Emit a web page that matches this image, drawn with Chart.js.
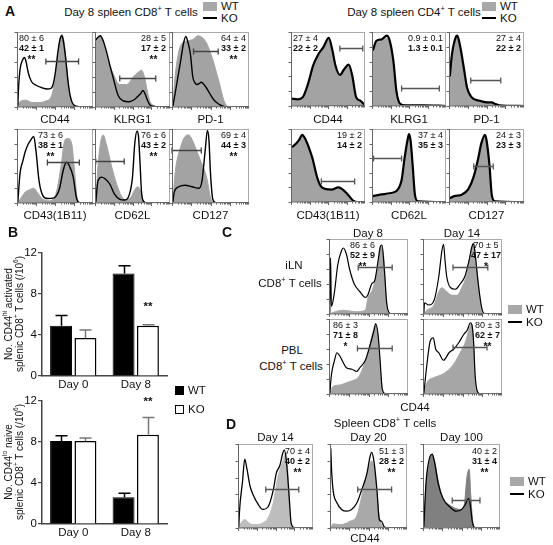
<!DOCTYPE html>
<html>
<head>
<meta charset="utf-8">
<script src="https://cdn.jsdelivr.net/npm/chart.js@4.4.0/dist/chart.umd.min.js"></script>
<style>
body { margin: 0; background: #fff; }
#fig { position: relative; width: 553px; height: 545px; overflow: hidden; font-family: "Liberation Sans", Arial, sans-serif; color: #111; }
#fig canvas { position: absolute; }
.t { position: absolute; white-space: nowrap; font-size: 11.5px; line-height: 13px; }
.stat { position: absolute; white-space: nowrap; font-size: 9px; line-height: 9.5px; text-align: center; }
.stat .sig { font-weight: bold; font-size: 10px; margin-top: 2px; }
.lbl { position: absolute; font-weight: bold; font-size: 14px; }
.sw { position: absolute; }
sup { font-size: 65%; line-height: 0; }
</style>
</head>
<body>
<div id="fig"></div>
<script>
// ---- panel B bar data ----
const days = ['Day 0', 'Day 8'];
const yTicks = [0, 4, 8, 12];
const actWt = [4.9, 10.0];
const actWtErr = [1.0, 0.75];
const actKo = [3.7, 4.9];
const actKoErr = [0.8, 0.1];
const naiveWt = [8.1, 2.6];
const naiveWtErr = [0.5, 0.4];
const naiveKo = [8.1, 8.7];
const naiveKoErr = [0.3, 1.7];

// ---- histogram curves, [x, y] in % of axis ----
// A: day 8 spleen CD8
const a8Cd44Wt = [[0,2],[5,8],[12,9],[20,6],[30,6],[38,8],[44,12],[48,25],[52,55],[55,80],[57,92],[59,97],[61,92],[64,70],[67,38],[70,12],[73,3],[78,0],[100,0]];
const a8Cd44Ko = [[1,0],[2,25],[4,50],[7,62],[10,66],[12,60],[15,45],[19,34],[25,29],[32,26],[40,24],[45,25],[48,32],[51,50],[54,75],[57,92],[59,95],[61,88],[64,65],[67,35],[70,15],[73,5],[78,1],[85,0],[100,0]];
const a8KlrgWt = [[0,85],[3,92],[7,95],[11,85],[16,65],[24,45],[33,30],[42,30],[51,40],[57,46],[62,49],[66,40],[69,25],[73,8],[78,2],[84,0],[100,0]];
const a8KlrgKo = [[0,88],[3,92],[7,95],[11,88],[15,75],[20,55],[24,40],[31,15],[38,8],[45,7],[51,9],[57,14],[61,18],[64,22],[67,17],[70,9],[73,3],[78,1],[85,0],[100,0]];
const a8Pd1Wt = [[1,0],[4,40],[8,70],[13,85],[20,88],[27,90],[34,95],[40,92],[45,85],[50,72],[54,60],[58,45],[62,30],[67,10],[71,2],[76,0],[100,0]];
const a8Pd1Ko = [[1,0],[6,30],[11,60],[15,85],[18,94],[21,85],[24,70],[27,40],[30,32],[32,30],[35,31],[38,33],[43,28],[49,18],[54,10],[58,6],[64,2],[70,0],[100,0]];
const a8Cd43Wt = [[1,0],[6,8],[11,15],[17,18],[22,20],[27,14],[34,5],[43,3],[48,6],[52,15],[58,50],[63,85],[67,87],[72,80],[76,40],[79,8],[83,0],[100,0]];
const a8Cd43Ko = [[1,0],[4,40],[8,58],[11,70],[15,80],[18,85],[22,90],[25,70],[29,30],[34,10],[40,6],[49,7],[53,12],[56,20],[61,45],[65,55],[69,50],[74,35],[78,8],[81,1],[86,0],[100,0]];
const a8Cd62Wt = [[1,0],[4,50],[8,85],[11,92],[15,80],[22,50],[29,25],[35,10],[41,4],[48,8],[53,18],[57,22],[61,15],[64,4],[68,0],[100,0]];
const a8Cd62Ko = [[1,0],[4,30],[9,35],[13,33],[20,25],[26,12],[33,5],[39,4],[46,12],[50,35],[53,80],[56,97],[58,90],[60,55],[62,15],[65,2],[70,0],[100,0]];
const a8Cd127Wt = [[1,0],[4,40],[11,75],[17,90],[22,92],[26,86],[33,68],[38,55],[42,45],[46,30],[49,12],[52,2],[56,0],[100,0]];
const a8Cd127Ko = [[1,0],[3,15],[9,22],[17,24],[26,22],[35,20],[39,30],[43,70],[46,98],[48,85],[50,40],[53,5],[57,0],[100,0]];
// A: day 8 spleen CD4
const a4Cd44Wt = [[1,8],[9,8],[16,11],[23,28],[30,52],[37,68],[44,78],[51,90],[56,73],[60,53],[66,40],[72,48],[78,54],[83,38],[88,11],[94,5],[99,1]];
const a4Cd44Ko = [[1,10],[9,9],[16,12],[23,30],[30,55],[37,70],[44,80],[51,92],[56,75],[60,55],[66,42],[72,50],[78,56],[83,40],[88,12],[94,7],[99,2]];
const a4KlrgWt = [[1,72],[6,85],[13,88],[20,92],[24,85],[29,58],[33,18],[38,3],[45,1],[100,0]];
const a4KlrgKo = [[1,75],[6,88],[13,90],[20,95],[24,88],[29,60],[33,20],[38,3],[45,1],[70,1],[100,0]];
const a4Pd1Wt = [[1,38],[4,68],[9,92],[11,94],[15,78],[20,48],[24,23],[30,11],[41,6],[50,4],[57,4],[61,2],[67,0],[100,0]];
const a4Pd1Ko = [[1,40],[4,70],[9,93],[11,95],[15,80],[20,50],[24,25],[30,12],[41,7],[50,5],[57,5],[61,3],[67,1],[100,0]];
const a4Cd43Wt = [[1,72],[7,78],[11,83],[15,90],[20,83],[24,73],[29,58],[35,33],[40,20],[46,16],[55,15],[64,18],[70,15],[77,8],[84,1],[90,0],[100,0]];
const a4Cd43Ko = [[1,75],[7,80],[11,85],[15,92],[20,85],[24,75],[29,60],[35,35],[40,22],[46,18],[55,17],[64,20],[70,17],[77,10],[84,2],[90,0],[100,0]];
const a4Cd62Wt = [[1,6],[11,8],[24,10],[33,13],[40,28],[44,58],[48,83],[50,90],[52,83],[55,48],[58,8],[62,0],[100,0]];
const a4Cd62Ko = [[1,8],[11,10],[24,12],[33,15],[40,30],[44,60],[48,85],[50,93],[52,85],[55,50],[58,10],[62,1],[100,0]];
const a4Cd127Wt = [[1,3],[7,6],[17,8],[26,16],[33,33],[39,58],[43,78],[48,90],[50,83],[54,48],[57,8],[61,0],[100,0]];
const a4Cd127Ko = [[1,5],[7,8],[17,10],[26,18],[33,35],[39,60],[43,80],[48,92],[50,85],[54,50],[57,10],[61,1],[100,0]];
// C: iLN and PBL CD44
const cLn8Wt = [[1,0],[5,2],[18,5],[35,3],[46,5],[49,20],[56,35],[62,65],[66,92],[69,80],[73,15],[76,0],[100,0]];
const cLn8Ko = [[1,0],[2,75],[3,10],[7,30],[11,65],[16,85],[18,88],[22,80],[26,60],[32,40],[39,30],[46,22],[49,25],[54,40],[58,45],[62,70],[65,90],[67,92],[70,60],[73,15],[76,2],[80,0],[100,0]];
const cLn14Wt = [[1,0],[5,5],[14,12],[20,30],[24,35],[30,30],[37,25],[43,25],[49,35],[56,55],[61,85],[64,95],[68,60],[73,15],[77,0],[100,0]];
const cLn14Ko = [[1,0],[2,15],[7,12],[14,18],[20,50],[24,85],[26,93],[28,70],[30,50],[35,35],[41,33],[47,40],[53,50],[58,70],[62,90],[64,94],[66,80],[70,40],[74,10],[77,1],[82,0],[100,0]];
const cPb8Wt = [[1,0],[5,10],[14,12],[22,15],[30,18],[37,22],[43,35],[49,55],[55,80],[59,92],[63,65],[66,20],[69,2],[73,0],[100,0]];
const cPb8Ko = [[1,0],[3,25],[7,45],[10,55],[14,50],[18,42],[22,35],[29,33],[35,30],[39,35],[46,45],[52,65],[57,85],[59,94],[62,80],[65,40],[67,10],[70,1],[75,0],[100,0]];
const cPb14Wt = [[1,0],[5,15],[14,22],[22,25],[30,30],[39,40],[47,55],[54,70],[58,85],[61,93],[64,70],[66,20],[69,0],[100,0]];
const cPb14Ko = [[1,0],[5,40],[9,70],[13,75],[16,60],[20,55],[26,45],[33,55],[39,60],[45,68],[52,80],[56,85],[60,95],[62,92],[64,70],[66,25],[69,3],[73,0],[100,0]];
// D: spleen CD8 CD44 over time
const dD14Wt = [[1,0],[4,6],[9,10],[16,5],[24,4],[33,6],[40,12],[47,30],[53,60],[60,80],[64,90],[67,60],[70,10],[74,0],[100,0]];
const dD14Ko = [[1,0],[2,20],[6,55],[9,82],[12,70],[16,50],[20,40],[27,28],[33,22],[40,25],[47,45],[51,65],[56,75],[60,90],[62,93],[65,75],[68,40],[71,5],[76,0],[100,0]];
const dD20Wt = [[1,0],[4,5],[13,4],[26,8],[35,15],[43,45],[50,70],[54,80],[59,60],[63,20],[67,3],[71,0],[100,0]];
const dD20Ko = [[1,95],[2,70],[4,45],[9,30],[15,22],[22,20],[28,22],[35,30],[41,45],[48,65],[52,85],[54,90],[57,80],[61,45],[64,10],[67,8],[70,2],[74,0],[100,0]];
const dD100Wt = [[1,0],[4,50],[9,80],[12,88],[15,80],[20,55],[26,35],[35,27],[43,23],[50,22],[54,30],[57,60],[60,70],[62,40],[65,5],[69,0],[100,0]];
const dD100Ko = [[1,0],[4,55],[9,85],[12,88],[15,78],[20,52],[26,35],[35,25],[43,20],[50,22],[55,28],[59,35],[61,30],[64,8],[68,0],[100,0]];

// gates [from, to, height] and percentages
const a8Markers = ['CD44', 'KLRG1', 'PD-1', 'CD43(1B11)', 'CD62L', 'CD127'];
const a8Gates = [[38,81,62],[33,81,39],[28,60,75],[40,82,55],[1,39,57],[0,38,72]];
const a8WtPct = ['80 ± 6', '28 ± 5', '64 ± 4', '73 ± 6', '76 ± 6', '69 ± 4'];
const a8KoPct = ['42 ± 1', '17 ± 2', '33 ± 2', '38 ± 1', '43 ± 2', '44 ± 3'];
const a8Sig = ['**', '**', '**', '**', '**', '**'];
const a4Gates = [[66,97,78],[40,91,25],[29,69,35],[41,86,29],[2,40,60],[33,59,49]];
const a4WtPct = ['27 ± 4', '0.9 ± 0.1', '27 ± 4', '19 ± 2', '37 ± 4', '24 ± 3'];
const a4KoPct = ['22 ± 2', '1.3 ± 0.1', '22 ± 2', '14 ± 2', '35 ± 3', '23 ± 3'];
const cGates = [[37,80,63],[38,82,63],[36,80,62],[38,81,63]];
const cWtPct = ['86 ± 6', '70 ± 5', '86 ± 3', '80 ± 3'];
const cKoPct = ['52 ± 9', '47 ± 17', '71 ± 8', '62 ± 7'];
const cSig = ['**', '*', '*', '**'];
const dDays = ['Day 14', 'Day 20', 'Day 100'];
const dGates = [[37,81,47],[36,80,47],[38,74,33]];
const dWtPct = ['70 ± 4', '51 ± 3', '40 ± 2'];
const dKoPct = ['40 ± 2', '28 ± 2', '31 ± 4'];
const dSig = ['**', '**', '**'];

const FONT = '"Liberation Sans", Arial, sans-serif';
const fig = document.getElementById('fig');

function text(x, y, html, cls, tf) {
  const d = document.createElement('div');
  d.className = cls || 't';
  d.innerHTML = html;
  d.style.left = x + 'px';
  d.style.top = y + 'px';
  d.style.transform = tf || 'translate(-50%,-50%)';
  fig.appendChild(d);
  return d;
}

function legend(x, y, gap) {
  const sw = document.createElement('div');
  sw.className = 'sw';
  Object.assign(sw.style, { left: x + 'px', top: (y - 4) + 'px', width: '14px', height: '9px', background: '#a8a8a8' });
  fig.appendChild(sw);
  const ln = document.createElement('div');
  ln.className = 'sw';
  Object.assign(ln.style, { left: x + 'px', top: (y + gap - 1) + 'px', width: '14px', height: '2px', background: '#000' });
  fig.appendChild(ln);
  text(x + 18, y, 'WT', 't', 'translate(0,-50%)');
  text(x + 18, y + gap, 'KO', 't', 'translate(0,-50%)');
}

// frame with small log-ish ticks, and gate bar
const framePlugin = {
  id: 'frame',
  afterDraw(chart) {
    const { ctx, chartArea: a } = chart;
    ctx.save();
    ctx.strokeStyle = '#aaa';
    ctx.lineWidth = 1;
    ctx.strokeRect(a.left + 0.5, a.top + 0.5, a.right - a.left - 1, a.bottom - a.top - 1);
    ctx.strokeStyle = '#666';
    ctx.beginPath();
    ctx.moveTo(a.left + 0.5, a.top); ctx.lineTo(a.left + 0.5, a.bottom);
    ctx.lineTo(a.right, a.bottom - 0.5);
    const w = a.right - a.left, h = a.bottom - a.top;
    for (let d = 0; d < 4; d++) {
      for (let m = 1; m < 10; m++) {
        const xx = Math.round(a.left + w * (d + Math.log10(m)) / 4) + 0.5;
        const len = m === 1 ? 3 : 1.5;
        ctx.moveTo(xx, a.bottom); ctx.lineTo(xx, a.bottom + len);
      }
    }
    for (let k = 0; k <= 5; k++) {
      const yy = Math.round(a.bottom - h * k / 5) + 0.5;
      ctx.moveTo(a.left, yy); ctx.lineTo(a.left - 2.5, yy);
    }
    ctx.stroke();
    ctx.restore();
  }
};

const gatePlugin = {
  id: 'gate',
  afterDatasetsDraw(chart, args, opts) {
    if (!opts.range) return;
    const { ctx, scales: { x, y } } = chart;
    const x1 = x.getPixelForValue(opts.range[0]);
    const x2 = x.getPixelForValue(opts.range[1]);
    const yy = Math.round(y.getPixelForValue(opts.range[2])) + 0.5;
    ctx.save();
    ctx.strokeStyle = opts.color || '#555';
    ctx.lineWidth = 1.3;
    ctx.beginPath();
    ctx.moveTo(x1, yy); ctx.lineTo(x2, yy);
    ctx.moveTo(x1, yy - 3); ctx.lineTo(x1, yy + 3);
    ctx.moveTo(x2, yy - 3); ctx.lineTo(x2, yy + 3);
    ctx.stroke();
    ctx.restore();
  }
};

function hist(box, wt, ko, gate, st) {
  const cv = document.createElement('canvas');
  const w = box[1] - box[0], h = box[3] - box[2];
  cv.width = w + 5; cv.height = h + 5;
  cv.style.left = (box[0] - 4) + 'px';
  cv.style.top = (box[2] - 1) + 'px';
  fig.appendChild(cv);
  const pts = arr => arr.map(p => ({ x: p[0], y: p[1] }));
  new Chart(cv, {
    type: 'line',
    data: {
      datasets: [
        { data: pts(ko), borderColor: '#000', borderWidth: st.kw || 1.3, pointRadius: 0, fill: false, cubicInterpolationMode: 'monotone' },
        { data: pts(wt), borderColor: st.wc || '#a6a6a6', backgroundColor: st.wc || '#a6a6a6', borderWidth: 1, pointRadius: 0, fill: 'origin', cubicInterpolationMode: 'monotone' }
      ]
    },
    options: {
      responsive: false, animation: false, events: [],
      layout: { padding: { left: 4, top: 1, right: 1, bottom: 4 } },
      plugins: { legend: { display: false }, tooltip: { enabled: false }, gate: { range: gate, color: st.gc } },
      scales: {
        x: { type: 'linear', min: 0, max: 100, display: false },
        y: { min: 0, max: 100, display: false }
      }
    },
    plugins: [framePlugin, gatePlugin]
  });
}

function stats(box, wt, ko, sig, side, off, dy) {
  const d = document.createElement('div');
  d.className = 'stat';
  d.innerHTML = wt + '<br><b>' + ko + '</b>' + (sig ? '<div class="sig">' + sig + '</div>' : '');
  d.style.top = (box[2] + (dy || 2)) + 'px';
  if (side === 'r') d.style.right = (553 - box[1] + off) + 'px';
  else d.style.left = (box[0] + off) + 'px';
  fig.appendChild(d);
}

// ---------- panel A ----------
text(5, 3, 'A', 'lbl', 'none');
text(131, 12, 'Day 8 spleen CD8<sup>+</sup> T cells');
legend(203, 6, 12);
text(414, 12, 'Day 8 spleen CD4<sup>+</sup> T cells');
legend(482, 6, 12);

const a8Boxes = [[17,93,32,107],[95,170,32,107],[172,249,32,107],[17,93,129,203],[95,170,129,203],[172,249,129,203]];
const a8Curves = [[a8Cd44Wt,a8Cd44Ko],[a8KlrgWt,a8KlrgKo],[a8Pd1Wt,a8Pd1Ko],[a8Cd43Wt,a8Cd43Ko],[a8Cd62Wt,a8Cd62Ko],[a8Cd127Wt,a8Cd127Ko]];
const a8Side = [['l',2],['r',4],['r',3],['l',21],['r',4],['r',3]];
a8Boxes.forEach((b, i) => {
  hist(b, a8Curves[i][0], a8Curves[i][1], a8Gates[i], { kw: 1.4, wc: '#a3a3a3', gc: '#444' });
  stats(b, a8WtPct[i], a8KoPct[i], a8Sig[i], a8Side[i][0], a8Side[i][1]);
  text((b[0] + b[1]) / 2, b[3] + 12, a8Markers[i]);
});

const a4Boxes = [[291,365,32,106],[372,446,32,106],[449,524,32,106],[291,365,129,202],[372,446,129,202],[449,524,129,202]];
const a4Curves = [[a4Cd44Wt,a4Cd44Ko],[a4KlrgWt,a4KlrgKo],[a4Pd1Wt,a4Pd1Ko],[a4Cd43Wt,a4Cd43Ko],[a4Cd62Wt,a4Cd62Ko],[a4Cd127Wt,a4Cd127Ko]];
const a4Side = [['l',2],['r',3],['r',3],['r',3],['r',3],['r',3]];
a4Boxes.forEach((b, i) => {
  hist(b, a4Curves[i][0], a4Curves[i][1], a4Gates[i], { kw: 2.2, wc: '#a3a3a3', gc: '#555' });
  stats(b, a4WtPct[i], a4KoPct[i], '', a4Side[i][0], a4Side[i][1]);
  text((b[0] + b[1]) / 2, b[3] + 13, a8Markers[i]);
});

// ---------- panel B ----------
text(8, 224, 'B', 'lbl', 'none');

const errPlugin = {
  id: 'err',
  afterDatasetsDraw(chart) {
    const { ctx, scales: { y } } = chart;
    chart.data.datasets.forEach((ds, i) => {
      chart.getDatasetMeta(i).data.forEach((bar, j) => {
        const top = y.getPixelForValue(ds.data[j] + ds.err[j]);
        const xx = Math.round(bar.x) + 0.5;
        ctx.save();
        ctx.strokeStyle = ds.errColor;
        ctx.lineWidth = 1.5;
        ctx.beginPath();
        ctx.moveTo(xx, bar.y); ctx.lineTo(xx, top);
        ctx.moveTo(xx - 6, top); ctx.lineTo(xx + 6, top);
        ctx.stroke();
        ctx.restore();
      });
    });
  }
};

function barChart(top, wt, wtErr, ko, koErr) {
  const cv = document.createElement('canvas');
  cv.width = 147; cv.height = 150;
  cv.style.left = '22px';
  cv.style.top = top + 'px';
  fig.appendChild(cv);
  new Chart(cv, {
    type: 'bar',
    data: {
      labels: days,
      datasets: [
        { label: 'WT', data: wt, err: wtErr, errColor: '#000', backgroundColor: '#000', borderColor: '#000', borderWidth: 1, categoryPercentage: 0.78, barPercentage: 0.9 },
        { label: 'KO', data: ko, err: koErr, errColor: '#777', backgroundColor: '#fff', borderColor: '#000', borderWidth: 1.5, categoryPercentage: 0.78, barPercentage: 0.9 }
      ]
    },
    options: {
      responsive: false, animation: false, events: [],
      layout: { padding: { top: 8, right: 2, left: 0, bottom: 0 } },
      plugins: { legend: { display: false }, tooltip: { enabled: false } },
      scales: {
        x: {
          grid: { display: false, drawTicks: false },
          border: { display: true, color: '#444', width: 1.5 },
          ticks: { color: '#111', font: { family: FONT, size: 11.5 }, padding: 2 },
          afterFit(s) { s.height = 19; }
        },
        y: {
          min: yTicks[0], max: yTicks[yTicks.length - 1],
          afterBuildTicks(s) { s.ticks = yTicks.map(v => ({ value: v })); },
          grid: { display: true, drawOnChartArea: false, drawTicks: true, tickLength: 4, color: '#444', lineWidth: 1.2 },
          border: { display: true, color: '#444', width: 1.5 },
          ticks: { color: '#111', font: { family: FONT, size: 11.5 }, padding: 1 },
          afterFit(s) { s.width = 20; }
        }
      }
    },
    plugins: [errPlugin]
  });
}

barChart(245, actWt, actWtErr, actKo, actKoErr);
barChart(393, naiveWt, naiveWtErr, naiveKo, naiveKoErr);
text(148, 306, '**', 't', 'translate(-50%,-50%)').style.fontWeight = 'bold';
text(148, 401, '**', 't', 'translate(-50%,-50%)').style.fontWeight = 'bold';

const yt1 = text(8, 314, 'No. CD44<sup>hi</sup> activated', 't', 'translate(-50%,-50%) rotate(-90deg)');
const yt2 = text(19, 314, 'splenic CD8<sup>+</sup> T cells (/10<sup>6</sup>)', 't', 'translate(-50%,-50%) rotate(-90deg)');
const yt3 = text(8, 462, 'No. CD44<sup>lo</sup> naive', 't', 'translate(-50%,-50%) rotate(-90deg)');
const yt4 = text(19, 462, 'splenic CD8<sup>+</sup> T cells (/10<sup>6</sup>)', 't', 'translate(-50%,-50%) rotate(-90deg)');
[yt1, yt2, yt3, yt4].forEach(d => { d.style.fontSize = '10px'; });

// B legend
const bw = document.createElement('div');
Object.assign(bw.style, { position: 'absolute', left: '175px', top: '386px', width: '9px', height: '9px', background: '#000' });
fig.appendChild(bw);
const bk = document.createElement('div');
Object.assign(bk.style, { position: 'absolute', left: '175px', top: '405px', width: '7px', height: '7px', border: '1.2px solid #000', background: '#fff' });
fig.appendChild(bk);
text(188, 390, 'WT', 't', 'translate(0,-50%)');
text(188, 409, 'KO', 't', 'translate(0,-50%)');

// ---------- panel C ----------
text(222, 224, 'C', 'lbl', 'none');
text(368, 233, 'Day 8');
text(462, 233, 'Day 14');
text(294, 265, 'iLN');
text(290, 283, 'CD8<sup>+</sup> T cells');
text(292, 350, 'PBL');
text(291, 366, 'CD8<sup>+</sup> T cells');
const cBoxes = [[329,408,239,314],[423,502,239,314],[329,408,319,394],[423,502,319,394]];
const cCurves = [[cLn8Wt,cLn8Ko],[cLn14Wt,cLn14Ko],[cPb8Wt,cPb8Ko],[cPb14Wt,cPb14Ko]];
const cSide = [['l',21],['r',1],['l',4],['r',2]];
cBoxes.forEach((b, i) => {
  hist(b, cCurves[i][0], cCurves[i][1], cGates[i], { kw: 1.2, wc: '#a6a6a6', gc: '#555' });
  stats(b, cWtPct[i], cKoPct[i], cSig[i], cSide[i][0], cSide[i][1]);
});
text(415, 407, 'CD44');
legend(508, 309, 13);

// ---------- panel D ----------
text(226, 416, 'D', 'lbl', 'none');
text(385, 423, 'Spleen CD8<sup>+</sup> T cells');
const dBoxes = [[238,313,444,528],[330,407,444,528],[423,500,444,528]];
const dCurves = [[dD14Wt,dD14Ko],[dD20Wt,dD20Ko],[dD100Wt,dD100Ko]];
const dFill = ['#bdbdbd', '#a9a9a9', '#808080'];
dBoxes.forEach((b, i) => {
  hist(b, dCurves[i][0], dCurves[i][1], dGates[i], { kw: 1.3, wc: dFill[i], gc: '#555' });
  stats(b, dWtPct[i], dKoPct[i], dSig[i], 'r', 3, 3);
  text((b[0] + b[1]) / 2, 437, dDays[i]);
});
text(365, 538, 'CD44');
legend(510, 481, 13);
</script>
</body>
</html>
